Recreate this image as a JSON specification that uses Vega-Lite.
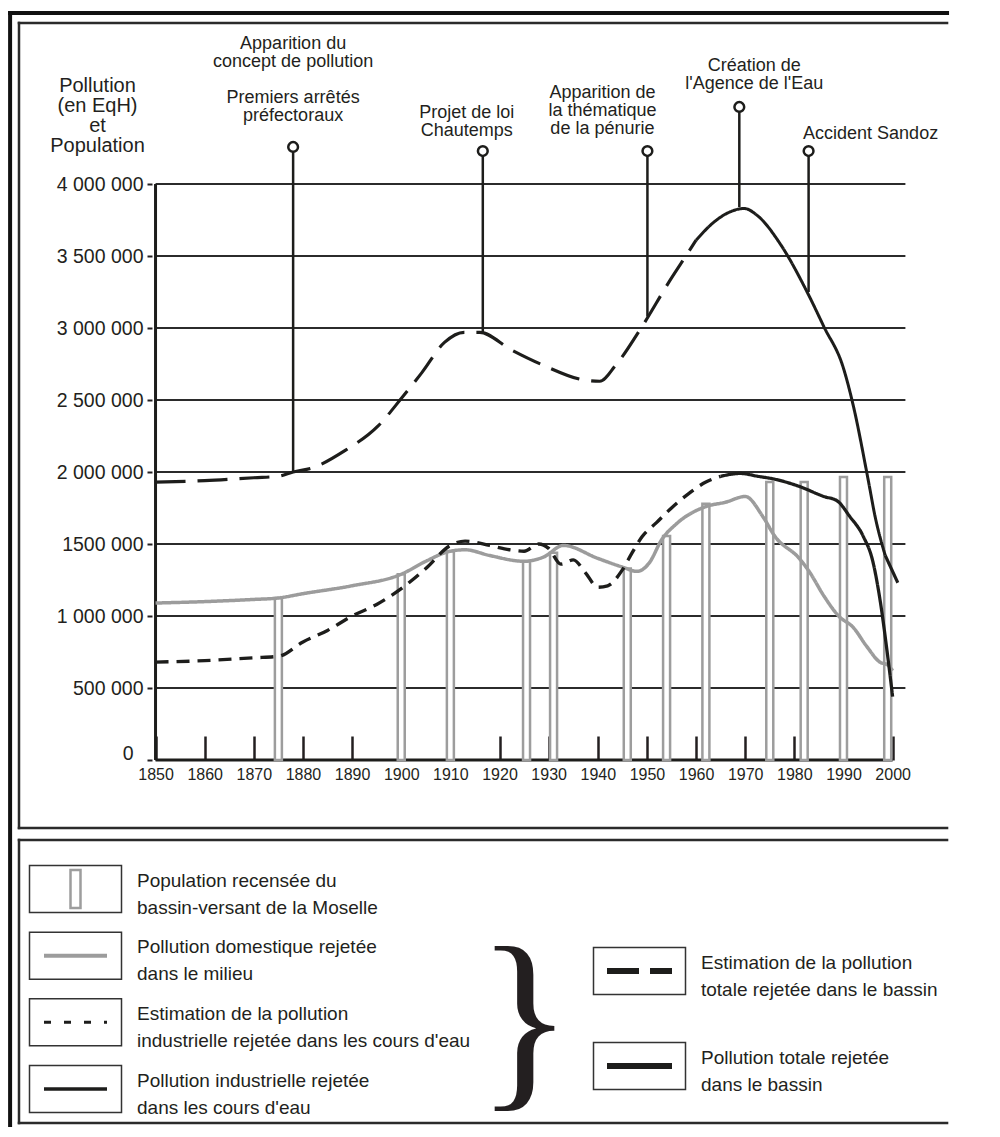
{
  "$schema": "https://vega.github.io/schema/vega-lite/v6.json",
  "background": "white",
  "padding": {"left": 7, "top": 10, "right": 0, "bottom": 0},
  "bounds": "flush",
  "spacing": 12,
  "config": {
    "font": "Liberation Sans, Arial, sans-serif",
    "view": {"stroke": null},
    "axis": {"grid": false, "domain": false, "labelColor": "#231f20", "tickColor": "#231f20", "labelOverlap": false, "labelFlush": false, "labelBound": false},
    "text": {"color": "#231f20"}
  },
  "datasets": {
    "series": [
      {"serie": "dom", "part": "a", "year": 1850, "value": 1090000},
      {"serie": "dom", "part": "a", "year": 1860, "value": 1100000},
      {"serie": "dom", "part": "a", "year": 1870, "value": 1115000},
      {"serie": "dom", "part": "a", "year": 1875, "value": 1125000},
      {"serie": "dom", "part": "a", "year": 1880, "value": 1155000},
      {"serie": "dom", "part": "a", "year": 1890, "value": 1210000},
      {"serie": "dom", "part": "a", "year": 1900, "value": 1290000},
      {"serie": "dom", "part": "a", "year": 1905, "value": 1380000},
      {"serie": "dom", "part": "a", "year": 1910, "value": 1450000},
      {"serie": "dom", "part": "a", "year": 1913, "value": 1460000},
      {"serie": "dom", "part": "a", "year": 1918, "value": 1420000},
      {"serie": "dom", "part": "a", "year": 1925, "value": 1380000},
      {"serie": "dom", "part": "a", "year": 1929, "value": 1410000},
      {"serie": "dom", "part": "a", "year": 1933, "value": 1490000},
      {"serie": "dom", "part": "a", "year": 1940, "value": 1400000},
      {"serie": "dom", "part": "a", "year": 1945, "value": 1340000},
      {"serie": "dom", "part": "a", "year": 1948, "value": 1310000},
      {"serie": "dom", "part": "a", "year": 1950.5, "value": 1370000},
      {"serie": "dom", "part": "a", "year": 1953, "value": 1530000},
      {"serie": "dom", "part": "a", "year": 1956, "value": 1640000},
      {"serie": "dom", "part": "a", "year": 1962, "value": 1760000},
      {"serie": "dom", "part": "a", "year": 1966, "value": 1790000},
      {"serie": "dom", "part": "a", "year": 1970, "value": 1830000},
      {"serie": "dom", "part": "a", "year": 1973.6, "value": 1690000},
      {"serie": "dom", "part": "a", "year": 1976, "value": 1555000},
      {"serie": "dom", "part": "a", "year": 1981, "value": 1400000},
      {"serie": "dom", "part": "a", "year": 1983, "value": 1310000},
      {"serie": "dom", "part": "a", "year": 1986, "value": 1140000},
      {"serie": "dom", "part": "a", "year": 1989, "value": 1000000},
      {"serie": "dom", "part": "a", "year": 1992, "value": 920000},
      {"serie": "dom", "part": "a", "year": 1994.7, "value": 790000},
      {"serie": "dom", "part": "a", "year": 1997.4, "value": 680000},
      {"serie": "dom", "part": "a", "year": 1999, "value": 660000},
      {"serie": "dom", "part": "a", "year": 2000, "value": 620000},
      {"serie": "ind_est", "part": "a", "year": 1850, "value": 680000},
      {"serie": "ind_est", "part": "a", "year": 1860, "value": 690000},
      {"serie": "ind_est", "part": "a", "year": 1870, "value": 710000},
      {"serie": "ind_est", "part": "a", "year": 1875, "value": 720000},
      {"serie": "ind_est", "part": "a", "year": 1880, "value": 820000},
      {"serie": "ind_est", "part": "a", "year": 1885, "value": 900000},
      {"serie": "ind_est", "part": "a", "year": 1890, "value": 1000000},
      {"serie": "ind_est", "part": "a", "year": 1895, "value": 1080000},
      {"serie": "ind_est", "part": "a", "year": 1900, "value": 1190000},
      {"serie": "ind_est", "part": "a", "year": 1905, "value": 1330000},
      {"serie": "ind_est", "part": "a", "year": 1910, "value": 1490000},
      {"serie": "ind_est", "part": "a", "year": 1913, "value": 1520000},
      {"serie": "ind_est", "part": "a", "year": 1918, "value": 1490000},
      {"serie": "ind_est", "part": "a", "year": 1922, "value": 1460000},
      {"serie": "ind_est", "part": "a", "year": 1925, "value": 1450000},
      {"serie": "ind_est", "part": "a", "year": 1928, "value": 1500000},
      {"serie": "ind_est", "part": "a", "year": 1930, "value": 1470000},
      {"serie": "ind_est", "part": "a", "year": 1932.5, "value": 1360000},
      {"serie": "ind_est", "part": "a", "year": 1935, "value": 1390000},
      {"serie": "ind_est", "part": "a", "year": 1937.5, "value": 1300000},
      {"serie": "ind_est", "part": "a", "year": 1940, "value": 1200000},
      {"serie": "ind_est", "part": "a", "year": 1942, "value": 1210000},
      {"serie": "ind_est", "part": "a", "year": 1945, "value": 1320000},
      {"serie": "ind_est", "part": "a", "year": 1947, "value": 1440000},
      {"serie": "ind_est", "part": "a", "year": 1949, "value": 1550000},
      {"serie": "ind_est", "part": "a", "year": 1952, "value": 1650000},
      {"serie": "ind_est", "part": "a", "year": 1955, "value": 1750000},
      {"serie": "ind_est", "part": "a", "year": 1958.5, "value": 1850000},
      {"serie": "ind_est", "part": "a", "year": 1962, "value": 1930000},
      {"serie": "ind_est", "part": "a", "year": 1965, "value": 1970000},
      {"serie": "ind", "part": "a", "year": 1965, "value": 1970000},
      {"serie": "ind", "part": "a", "year": 1969, "value": 1990000},
      {"serie": "ind", "part": "a", "year": 1972.6, "value": 1970000},
      {"serie": "ind", "part": "a", "year": 1976, "value": 1950000},
      {"serie": "ind", "part": "a", "year": 1981, "value": 1900000},
      {"serie": "ind", "part": "a", "year": 1986, "value": 1830000},
      {"serie": "ind", "part": "a", "year": 1988.7, "value": 1800000},
      {"serie": "ind", "part": "a", "year": 1991.3, "value": 1690000},
      {"serie": "ind", "part": "a", "year": 1994, "value": 1555000},
      {"serie": "ind", "part": "a", "year": 1996, "value": 1375000},
      {"serie": "ind", "part": "a", "year": 1997.4, "value": 1120000},
      {"serie": "ind", "part": "a", "year": 1999, "value": 720000},
      {"serie": "ind", "part": "a", "year": 2000, "value": 440000},
      {"serie": "tot_est", "part": "a", "year": 1850, "value": 1930000},
      {"serie": "tot_est", "part": "a", "year": 1860, "value": 1940000},
      {"serie": "tot_est", "part": "a", "year": 1870, "value": 1960000},
      {"serie": "tot_est", "part": "a", "year": 1875, "value": 1970000},
      {"serie": "tot_est", "part": "a", "year": 1878, "value": 2000000},
      {"serie": "tot_est", "part": "a", "year": 1882, "value": 2030000},
      {"serie": "tot_est", "part": "a", "year": 1888.6, "value": 2150000},
      {"serie": "tot_est", "part": "a", "year": 1895.3, "value": 2320000},
      {"serie": "tot_est", "part": "a", "year": 1900, "value": 2510000},
      {"serie": "tot_est", "part": "a", "year": 1904.2, "value": 2690000},
      {"serie": "tot_est", "part": "a", "year": 1908.8, "value": 2900000},
      {"serie": "tot_est", "part": "a", "year": 1912.8, "value": 2970000},
      {"serie": "tot_est", "part": "a", "year": 1916, "value": 2970000},
      {"serie": "tot_est", "part": "a", "year": 1922.3, "value": 2850000},
      {"serie": "tot_est", "part": "a", "year": 1929, "value": 2740000},
      {"serie": "tot_est", "part": "a", "year": 1937, "value": 2640000},
      {"serie": "tot_est", "part": "a", "year": 1940.4, "value": 2630000},
      {"serie": "tot_est", "part": "a", "year": 1943.6, "value": 2740000},
      {"serie": "tot_est", "part": "a", "year": 1949, "value": 3010000},
      {"serie": "tot_est", "part": "a", "year": 1954.5, "value": 3320000},
      {"serie": "tot_est", "part": "a", "year": 1958.5, "value": 3530000},
      {"serie": "tot_est", "part": "a", "year": 1960, "value": 3610000},
      {"serie": "tot", "part": "a", "year": 1960, "value": 3610000},
      {"serie": "tot", "part": "a", "year": 1963.8, "value": 3740000},
      {"serie": "tot", "part": "a", "year": 1966.5, "value": 3800000},
      {"serie": "tot", "part": "a", "year": 1969.8, "value": 3830000},
      {"serie": "tot", "part": "a", "year": 1972.5, "value": 3780000},
      {"serie": "tot", "part": "a", "year": 1977.2, "value": 3580000},
      {"serie": "tot", "part": "a", "year": 1982.6, "value": 3250000},
      {"serie": "tot", "part": "a", "year": 1986, "value": 3010000},
      {"serie": "tot", "part": "a", "year": 1990, "value": 2720000},
      {"serie": "tot", "part": "a", "year": 1992, "value": 2460000},
      {"serie": "tot", "part": "a", "year": 1995, "value": 1950000},
      {"serie": "tot", "part": "a", "year": 1996.5, "value": 1680000},
      {"serie": "tot", "part": "a", "year": 1998.5, "value": 1420000},
      {"serie": "tot_est", "part": "b", "year": 1998.5, "value": 1420000},
      {"serie": "tot_est", "part": "b", "year": 2001.2, "value": 1220000}
    ],
    "pop": [
      {"year": 1875, "pop": 1125000},
      {"year": 1900, "pop": 1290000},
      {"year": 1910, "pop": 1450000},
      {"year": 1925.5, "pop": 1380000},
      {"year": 1931, "pop": 1440000},
      {"year": 1946, "pop": 1330000},
      {"year": 1954, "pop": 1555000},
      {"year": 1962, "pop": 1780000},
      {"year": 1975, "pop": 1930000},
      {"year": 1982, "pop": 1930000},
      {"year": 1990, "pop": 1965000},
      {"year": 1999, "pop": 1965000}
    ],
    "grid": [
      {"v": 500000}, {"v": 1000000}, {"v": 1500000}, {"v": 2000000},
      {"v": 2500000}, {"v": 3000000}, {"v": 3500000}, {"v": 4000000}
    ],
    "events": [
      {"id": 1, "year": 1878, "curve": 2000000, "marker": 4257000, "above": ["Apparition du", "concept de pollution"], "label": ["Premiers arrêtés", "préfectoraux"]},
      {"id": 2, "year": 1916.6, "curve": 2970000, "marker": 4229000, "label": ["Projet de loi", "Chautemps"]},
      {"id": 3, "year": 1950.1, "curve": 3080000, "marker": 4229000, "label": ["Apparition de", "la thématique", "de la pénurie"]},
      {"id": 4, "year": 1968.8, "curve": 3840000, "marker": 4535000, "label": ["Création de", "l'Agence de l'Eau"]},
      {"id": 5, "year": 1982.9, "curve": 3250000, "marker": 4229000, "label": ["Accident Sandoz"]}
    ],
    "legend": [
      {"id": "pop", "col": "L", "row": 1, "label": ["Population recensée du", "bassin-versant de la Moselle"]},
      {"id": "dom", "col": "L", "row": 2, "label": ["Pollution domestique rejetée", "dans le milieu"]},
      {"id": "ind_est", "col": "L", "row": 3, "label": ["Estimation de la pollution", "industrielle rejetée dans les cours d'eau"]},
      {"id": "ind", "col": "L", "row": 4, "label": ["Pollution industrielle rejetée", "dans les cours d'eau"]},
      {"id": "tot_est", "col": "R", "row": 2.23, "label": ["Estimation de la pollution", "totale rejetée dans le bassin"]},
      {"id": "tot", "col": "R", "row": 3.655, "label": ["Pollution totale rejetée", "dans le bassin"]}
    ],
    "brace": [
      {"col": "R", "row": 3.03, "t": "}"}
    ]
  },
  "vconcat": [
    {
      "width": 942,
      "height": 805,
      "layer": [
        {
          "data": {"values": [{}]},
          "mark": {"type": "rule", "stroke": "#111111", "strokeWidth": 4, "strokeCap": "square"},
          "encoding": {
            "x": {"datum": 1820.403, "type": "quantitative"},
            "x2": {"datum": 2011.074, "type": "quantitative"},
            "y": {"datum": 5187500, "type": "quantitative"}
          }
        },
        {
          "data": {"values": [{}]},
          "mark": {"type": "rule", "stroke": "#111111", "strokeWidth": 4, "strokeCap": "square"},
          "encoding": {
            "x": {"datum": 1820.403, "type": "quantitative"},
            "y": {"datum": 5187500, "type": "quantitative"},
            "y2": {"datum": -2534722, "type": "quantitative"}
          }
        },
        {
          "data": {"values": [{}]},
          "mark": {"type": "rule", "stroke": "#2b2b2b", "strokeWidth": 2.5, "strokeCap": "square"},
          "encoding": {
            "x": {"datum": 1822.215, "type": "quantitative"},
            "x2": {"datum": 2011.074, "type": "quantitative"},
            "y": {"datum": 5118056, "type": "quantitative"}
          }
        },
        {
          "data": {"values": [{}]},
          "mark": {"type": "rule", "stroke": "#2b2b2b", "strokeWidth": 2.5, "strokeCap": "square"},
          "encoding": {
            "x": {"datum": 1822.215, "type": "quantitative"},
            "y": {"datum": 5118056, "type": "quantitative"},
            "y2": {"datum": -472222, "type": "quantitative"}
          }
        },
        {
          "data": {"values": [{}]},
          "mark": {"type": "rule", "stroke": "#2b2b2b", "strokeWidth": 2.5, "strokeCap": "square"},
          "encoding": {
            "x": {"datum": 1822.215, "type": "quantitative"},
            "x2": {"datum": 2011.074, "type": "quantitative"},
            "y": {"datum": -472222, "type": "quantitative"}
          }
        },
        {
          "data": {"values": [{}]},
          "mark": {"type": "rule", "stroke": "#2b2b2b", "strokeWidth": 2.5, "strokeCap": "square"},
          "encoding": {
            "x": {"datum": 1822.215, "type": "quantitative"},
            "x2": {"datum": 2011.074, "type": "quantitative"},
            "y": {"datum": -555556, "type": "quantitative"}
          }
        },
        {
          "data": {"values": [{}]},
          "mark": {"type": "rule", "stroke": "#2b2b2b", "strokeWidth": 2.5, "strokeCap": "square"},
          "encoding": {
            "x": {"datum": 1822.215, "type": "quantitative"},
            "y": {"datum": -555556, "type": "quantitative"},
            "y2": {"datum": -2520833, "type": "quantitative"}
          }
        },
        {
          "data": {"values": [{}]},
          "mark": {"type": "rule", "stroke": "#2b2b2b", "strokeWidth": 2.5, "strokeCap": "square"},
          "encoding": {
            "x": {"datum": 1822.215, "type": "quantitative"},
            "x2": {"datum": 2011.074, "type": "quantitative"},
            "y": {"datum": -2520833, "type": "quantitative"}
          }
        },
        {
          "data": {"name": "grid"},
          "mark": {"type": "rule", "stroke": "#2b2b2b", "strokeWidth": 2},
          "encoding": {
            "y": {"field": "v", "type": "quantitative"},
            "x": {"datum": 1850, "type": "quantitative"},
            "x2": {"datum": 2002.6, "type": "quantitative"}
          }
        },
        {
          "data": {"values": [{}]},
          "mark": {"type": "rule", "stroke": "#1d1d1b", "strokeWidth": 3},
          "encoding": {
            "x": {"datum": 1850, "type": "quantitative"},
            "y": {"datum": 0, "type": "quantitative"},
            "y2": {"datum": 4000000, "type": "quantitative"}
          }
        },
        {
          "data": {"values": [{}]},
          "mark": {"type": "rule", "stroke": "#1d1d1b", "strokeWidth": 3},
          "encoding": {
            "x": {"datum": 1850, "type": "quantitative"},
            "x2": {"datum": 2000, "type": "quantitative"},
            "y": {"datum": 0, "type": "quantitative"}
          }
        },
        {
          "data": {"name": "pop"},
          "mark": {"type": "bar", "orient": "vertical", "width": 7, "fill": "white", "stroke": "#9d9d9d", "strokeWidth": 2.5},
          "encoding": {
            "x": {"field": "year", "type": "quantitative"},
            "y": {"field": "pop", "type": "quantitative"}
          }
        },
        {
          "data": {"name": "events"},
          "mark": {"type": "rule", "stroke": "#1d1d1b", "strokeWidth": 2.5},
          "encoding": {
            "x": {"field": "year", "type": "quantitative"},
            "y": {"field": "marker", "type": "quantitative"},
            "y2": {"field": "curve"}
          }
        },
        {
          "data": {"name": "events"},
          "mark": {"type": "point", "shape": "circle", "size": 95, "filled": true, "fill": "white", "stroke": "#1d1d1b", "strokeWidth": 2.5, "opacity": 1},
          "encoding": {
            "x": {"field": "year", "type": "quantitative"},
            "y": {"field": "marker", "type": "quantitative"}
          }
        },
        {
          "data": {"name": "events"},
          "transform": [{"filter": "datum.id == 1"}],
          "mark": {"type": "text", "align": "center", "baseline": "alphabetic", "dx": 0, "dy": -98, "fontSize": 18, "lineHeight": 18},
          "encoding": {"x": {"field": "year", "type": "quantitative"}, "y": {"field": "marker", "type": "quantitative"}, "text": {"field": "above", "type": "nominal"}}
        },
        {
          "data": {"name": "events"},
          "transform": [{"filter": "datum.id == 1"}],
          "mark": {"type": "text", "align": "center", "baseline": "alphabetic", "dx": 0, "dy": -44, "fontSize": 18, "lineHeight": 18},
          "encoding": {"x": {"field": "year", "type": "quantitative"}, "y": {"field": "marker", "type": "quantitative"}, "text": {"field": "label", "type": "nominal"}}
        },
        {
          "data": {"name": "events"},
          "transform": [{"filter": "datum.id == 2"}],
          "mark": {"type": "text", "align": "center", "baseline": "alphabetic", "dx": -16, "dy": -33, "fontSize": 18, "lineHeight": 18},
          "encoding": {"x": {"field": "year", "type": "quantitative"}, "y": {"field": "marker", "type": "quantitative"}, "text": {"field": "label", "type": "nominal"}}
        },
        {
          "data": {"name": "events"},
          "transform": [{"filter": "datum.id == 3"}],
          "mark": {"type": "text", "align": "center", "baseline": "alphabetic", "dx": -45, "dy": -53, "fontSize": 18, "lineHeight": 18},
          "encoding": {"x": {"field": "year", "type": "quantitative"}, "y": {"field": "marker", "type": "quantitative"}, "text": {"field": "label", "type": "nominal"}}
        },
        {
          "data": {"name": "events"},
          "transform": [{"filter": "datum.id == 4"}],
          "mark": {"type": "text", "align": "center", "baseline": "alphabetic", "dx": 15, "dy": -36, "fontSize": 18, "lineHeight": 18.5},
          "encoding": {"x": {"field": "year", "type": "quantitative"}, "y": {"field": "marker", "type": "quantitative"}, "text": {"field": "label", "type": "nominal"}}
        },
        {
          "data": {"name": "events"},
          "transform": [{"filter": "datum.id == 5"}],
          "mark": {"type": "text", "align": "center", "baseline": "alphabetic", "dx": 62, "dy": -12, "fontSize": 18},
          "encoding": {"x": {"field": "year", "type": "quantitative"}, "y": {"field": "marker", "type": "quantitative"}, "text": {"field": "label", "type": "nominal"}}
        },
        {
          "data": {"name": "series"},
          "mark": {"type": "line", "interpolate": "monotone", "strokeCap": "butt", "strokeJoin": "round"},
          "encoding": {
            "x": {
              "field": "year", "type": "quantitative",
              "scale": {"domain": [1822.215, 2011.879], "nice": false, "zero": false},
              "axis": {
                "values": [1850, 1860, 1870, 1880, 1890, 1900, 1910, 1920, 1930, 1940, 1950, 1960, 1970, 1980, 1990, 2000],
                "format": "d", "offset": -68, "tickSize": -24, "tickWidth": 2.5,
                "labelFontSize": 16, "labelPadding": 30, "labelBaseline": "top", "title": null
              }
            },
            "y": {
              "field": "value", "type": "quantitative",
              "scale": {"domain": [-472222, 5118056], "nice": false, "zero": false},
              "axis": {
                "values": [0, 500000, 1000000, 1500000, 2000000, 2500000, 3000000, 3500000, 4000000],
                "offset": -138, "tickSize": 5, "tickWidth": 2, "labelFontSize": 19.5,
                "labelPadding": {"condition": {"test": "datum.value == 0", "value": 14}, "value": 4},
                "labelOffset": {"condition": {"test": "datum.value == 0", "value": -7}, "value": 0},
                "labelExpr": "datum.value == 1500000 ? '1500 000' : replace(replace(format(datum.value, ','), ',', ' '), ',', ' ')",
                "title": ["Pollution", "(en EqH)", "et", "Population"],
                "titleAngle": 0, "titleAlign": "center", "titleBaseline": "top",
                "titleX": -55, "titleY": 52, "titleFontSize": 20, "titleFontWeight": "normal",
                "titleLineHeight": 20, "titleColor": "#231f20"
              }
            },
            "detail": {"field": "part", "type": "nominal"},
            "color": {
              "field": "serie", "type": "nominal", "legend": null,
              "scale": {"domain": ["dom", "ind_est", "ind", "tot_est", "tot"], "range": ["#9c9c9c", "#1d1d1b", "#1d1d1b", "#1d1d1b", "#1d1d1b"]}
            },
            "strokeDash": {
              "field": "serie", "type": "nominal", "legend": null,
              "scale": {"domain": ["dom", "ind_est", "ind", "tot_est", "tot"], "range": [[1, 0], [13, 8], [1, 0], [30, 12], [1, 0]]}
            },
            "strokeWidth": {
              "field": "serie", "type": "nominal", "legend": null,
              "scale": {"domain": ["dom", "ind_est", "ind", "tot_est", "tot"], "range": [3.5, 3, 3.2, 5.5, 5.5]}
            }
          }
        }
      ]
    },
    {
      "width": 942,
      "height": 283,
      "encoding": {
        "x": {"field": "col", "type": "nominal", "scale": {"type": "point", "domain": ["L", "R"], "range": [61.5, 625.5], "padding": 0}, "axis": null},
        "y": {"field": "row", "type": "quantitative", "scale": {"domain": [1, 4], "range": [49, 249], "nice": false, "zero": false}, "axis": null}
      },
      "layer": [
        {"data": {"name": "legend"},
         "mark": {"type": "point", "shape": "M-0.92,-0.47H0.92V0.47H-0.92Z", "size": 10000, "filled": false, "stroke": "#333333", "strokeWidth": 1.5, "opacity": 1}},
        {"data": {"name": "legend"}, "transform": [{"filter": "datum.id == 'pop'"}],
         "mark": {"type": "point", "shape": "M-0.1,-0.38H0.1V0.38H-0.1Z", "size": 10000, "filled": false, "stroke": "#9d9d9d", "strokeWidth": 2.5, "opacity": 1}},
        {"data": {"name": "legend"}, "transform": [{"filter": "datum.id == 'dom'"}],
         "mark": {"type": "point", "shape": "M-0.63,0H0.63", "size": 10000, "filled": false, "stroke": "#9c9c9c", "strokeWidth": 4, "opacity": 1, "strokeCap": "butt"}},
        {"data": {"name": "legend"}, "transform": [{"filter": "datum.id == 'ind_est'"}],
         "mark": {"type": "point", "shape": "M-0.63,0H0.63", "size": 10000, "filled": false, "stroke": "#1d1d1b", "strokeWidth": 3, "strokeDash": [7, 13], "opacity": 1, "strokeCap": "butt"}},
        {"data": {"name": "legend"}, "transform": [{"filter": "datum.id == 'ind'"}],
         "mark": {"type": "point", "shape": "M-0.63,0H0.63", "size": 10000, "filled": false, "stroke": "#1d1d1b", "strokeWidth": 3.5, "opacity": 1, "strokeCap": "butt"}},
        {"data": {"name": "legend"}, "transform": [{"filter": "datum.id == 'tot_est'"}],
         "mark": {"type": "point", "shape": "M-0.65,0H0.65", "size": 10000, "filled": false, "stroke": "#1d1d1b", "strokeWidth": 6, "strokeDash": [32, 11], "opacity": 1, "strokeCap": "butt"}},
        {"data": {"name": "legend"}, "transform": [{"filter": "datum.id == 'tot'"}],
         "mark": {"type": "point", "shape": "M-0.65,0H0.65", "size": 10000, "filled": false, "stroke": "#1d1d1b", "strokeWidth": 6, "opacity": 1, "strokeCap": "butt"}},
        {"data": {"name": "legend"},
         "mark": {"type": "text", "align": "left", "baseline": "alphabetic", "dx": 61.5, "dy": -2.5, "fontSize": 19, "lineHeight": 27},
         "encoding": {"text": {"field": "label", "type": "nominal"}}},
        {"data": {"name": "brace"},
         "mark": {"type": "text", "font": "Liberation Serif, DejaVu Serif, serif", "fontSize": 200, "baseline": "middle", "align": "center", "dx": -115},
         "encoding": {"text": {"field": "t", "type": "nominal"}}}
      ]
    }
  ]
}
